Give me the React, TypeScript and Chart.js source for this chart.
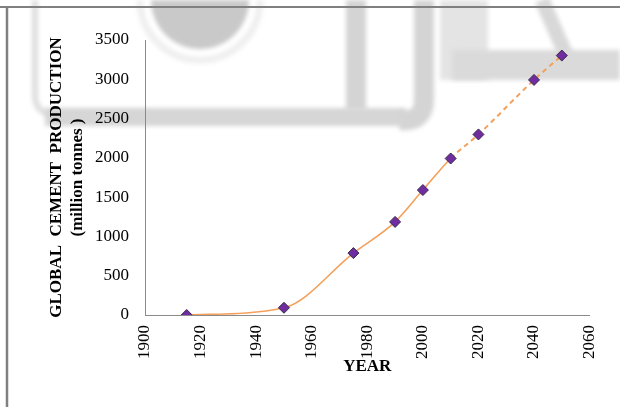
import React, { useEffect, useRef } from 'react';
import { Chart, registerables } from 'chart.js';

Chart.register(...registerables);

// Global cement production, million tonnes (values after 2010 are projections)
const years = [1915, 1950, 1975, 1990, 2000, 2010, 2020, 2040, 2050];
const production = [0, 92, 788, 1185, 1590, 1992, 2298, 2992, 3302];
const lastObservedYear = 2010;

const yearTicks = [1900, 1920, 1940, 1960, 1980, 2000, 2020, 2040, 2060];
const productionTicks = [0, 500, 1000, 1500, 2000, 2500, 3000, 3500];

const yTitleLines = ['GLOBAL  CEMENT  PRODUCTION', '(million tonnes )'];
const xTitleText = 'YEAR';

const SERIF = "'Liberation Serif', 'Times New Roman', serif";
const LINE_COLOR = '#F4A05A';
const MARKER_FILL = '#6F2DA0';
const MARKER_EDGE = '#3B2A4C';
const AXIS_COLOR = '#8A8A8A';

// Faded page backdrop (watermark strokes) and the page frame lines
const pageBackdrop = {
  id: 'pageBackdrop',
  beforeDraw(chart: Chart) {
    const { ctx, width, height } = chart;
    ctx.save();
    ctx.fillStyle = '#ffffff';
    ctx.fillRect(0, 0, width, height);

    ctx.filter = 'blur(2px)';
    ctx.lineCap = 'butt';
    ctx.lineJoin = 'round';

    // faint ring and solid disc at the top
    ctx.strokeStyle = '#efefef';
    ctx.lineWidth = 7;
    ctx.beginPath();
    ctx.arc(200, 0, 60, 0, Math.PI);
    ctx.stroke();
    ctx.fillStyle = '#c9c9c9';
    ctx.beginPath();
    ctx.arc(200, 0, 49, 0, Math.PI);
    ctx.fill();

    // left outline dropping into the long horizontal band
    ctx.strokeStyle = '#dedede';
    ctx.lineWidth = 6;
    ctx.beginPath();
    ctx.moveTo(35, 0);
    ctx.lineTo(35, 95);
    ctx.quadraticCurveTo(35, 114, 55, 114);
    ctx.lineTo(150, 114);
    ctx.stroke();

    ctx.strokeStyle = '#d6d6d6';
    ctx.lineWidth = 18;
    ctx.beginPath();
    ctx.moveTo(45, 117);
    ctx.lineTo(405, 117);
    ctx.stroke();

    // the two vertical strokes joining the band
    ctx.strokeStyle = '#d4d4d4';
    ctx.lineWidth = 20;
    ctx.beginPath();
    ctx.moveTo(356, 0);
    ctx.lineTo(356, 110);
    ctx.stroke();
    ctx.beginPath();
    ctx.moveTo(424, 0);
    ctx.lineTo(424, 100);
    ctx.quadraticCurveTo(424, 122, 400, 120);
    ctx.stroke();

    // right-hand block
    ctx.fillStyle = '#e4e4e4';
    ctx.fillRect(440, 0, 48, 80);
    ctx.fillStyle = '#dadada';
    ctx.fillRect(452, 50, 168, 30);
    ctx.strokeStyle = '#d8d8d8';
    ctx.lineWidth = 15;
    ctx.beginPath();
    ctx.moveTo(542, 0);
    ctx.lineTo(566, 55);
    ctx.stroke();

    ctx.filter = 'none';

    // page frame
    ctx.strokeStyle = '#808080';
    ctx.lineWidth = 2;
    ctx.beginPath();
    ctx.moveTo(0, 7);
    ctx.lineTo(width, 7);
    ctx.stroke();
    ctx.lineWidth = 2.5;
    ctx.beginPath();
    ctx.moveTo(7, 6);
    ctx.lineTo(7, height);
    ctx.stroke();
    ctx.restore();
  },
};

export default function App() {
  const canvasRef = useRef<HTMLCanvasElement | null>(null);

  useEffect(() => {
    const canvas = canvasRef.current;
    if (!canvas) return;

    const points = years.map((year, i) => ({ x: year, y: production[i] }));

    const chart = new Chart(canvas, {
      type: 'line',
      data: {
        datasets: [
          {
            data: points,
            borderColor: LINE_COLOR,
            borderWidth: 1.6,
            cubicInterpolationMode: 'monotone',
            segment: {
              borderDash: (c: any) =>
                years[c.p0DataIndex] >= lastObservedYear ? [5, 4] : undefined,
              borderWidth: (c: any) =>
                years[c.p0DataIndex] >= lastObservedYear ? 2 : 1.6,
            },
            pointStyle: 'rectRot',
            pointRadius: 5.5,
            pointBackgroundColor: MARKER_FILL,
            pointBorderColor: MARKER_EDGE,
            pointBorderWidth: 1,
            fill: false,
          },
        ],
      },
      options: {
        animation: false,
        responsive: false,
        devicePixelRatio: 1,
        layout: { padding: { top: 40, right: 27, bottom: 30, left: 42 } },
        plugins: {
          legend: { display: false },
          tooltip: { enabled: false },
          title: { display: false },
        },
        scales: {
          x: {
            type: 'linear',
            min: yearTicks[0],
            max: yearTicks[yearTicks.length - 1],
            afterBuildTicks: (scale: any) => {
              scale.ticks = yearTicks.map((v) => ({ value: v }));
            },
            afterFit: (scale: any) => {
              scale.height = 62;
            },
            grid: { display: false, drawTicks: false },
            border: { display: true, color: AXIS_COLOR, width: 1 },
            ticks: {
              autoSkip: false,
              minRotation: 90,
              maxRotation: 90,
              padding: 10,
              color: '#000',
              font: { family: SERIF, size: 17 },
              callback: (v: any) => String(v),
            },
            title: {
              display: true,
              text: xTitleText,
              color: '#000',
              padding: { top: 0, bottom: 0 },
              font: { family: SERIF, size: 17, weight: 'bold' },
            },
          },
          y: {
            type: 'linear',
            min: productionTicks[0],
            max: productionTicks[productionTicks.length - 1],
            afterBuildTicks: (scale: any) => {
              scale.ticks = productionTicks.map((v) => ({ value: v }));
            },
            afterFit: (scale: any) => {
              scale.width = 103;
            },
            grid: { display: false, drawTicks: false },
            border: { display: true, color: AXIS_COLOR, width: 1 },
            ticks: {
              padding: 16,
              color: '#000',
              font: { family: SERIF, size: 17 },
              callback: (v: any) => String(v),
            },
            title: {
              display: true,
              text: yTitleLines,
              color: '#000',
              padding: { top: 4, bottom: 0 },
              font: { family: SERIF, size: 17, weight: 'bold', lineHeight: 1.25 },
            },
          },
        },
      },
      plugins: [pageBackdrop],
    });

    return () => chart.destroy();
  }, []);

  return (
    <div style={{ position: 'absolute', left: 0, top: 0, width: 620, height: 407 }}>
      <canvas ref={canvasRef} width={620} height={407} />
    </div>
  );
}
